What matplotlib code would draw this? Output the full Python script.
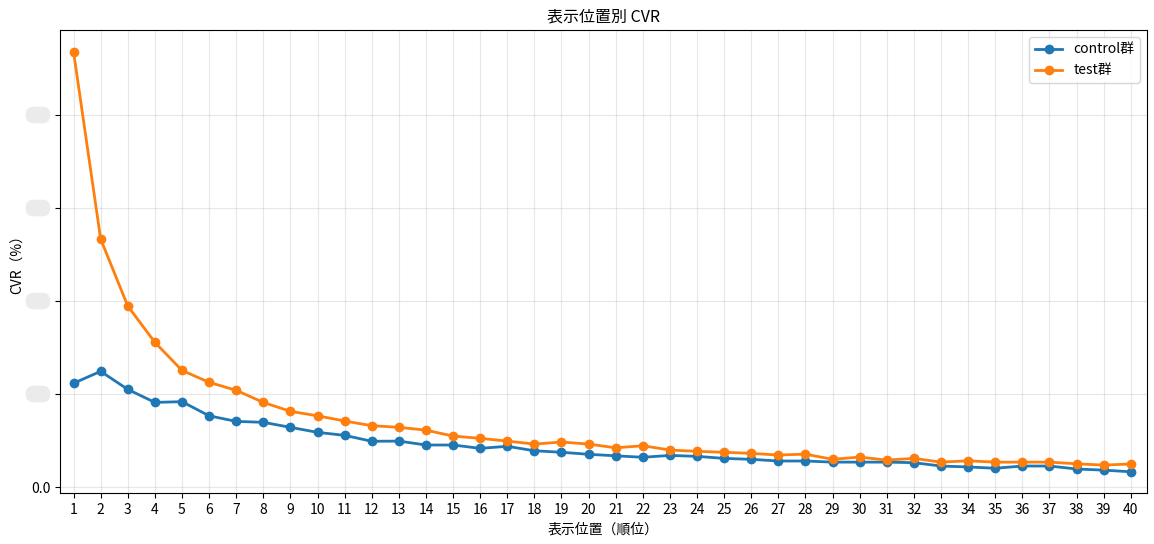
import matplotlib
matplotlib.use("Agg")
import matplotlib.pyplot as plt
from matplotlib.patches import FancyBboxPatch
from matplotlib.ticker import FuncFormatter

plt.rcParams['font.family'] = ['Noto Sans CJK JP', 'DejaVu Sans']

positions = list(range(1, 41))
control = [0.558, 0.622, 0.525, 0.455, 0.459, 0.383, 0.353, 0.348, 0.321, 0.294,
           0.278, 0.246, 0.247, 0.226, 0.226, 0.208, 0.219, 0.195, 0.187, 0.176,
           0.168, 0.160, 0.170, 0.165, 0.154, 0.149, 0.140, 0.140, 0.134, 0.134,
           0.134, 0.131, 0.113, 0.108, 0.101, 0.113, 0.113, 0.097, 0.091, 0.082]
test = [2.339, 1.333, 0.973, 0.778, 0.627, 0.563, 0.520, 0.455, 0.407, 0.383,
        0.355, 0.330, 0.321, 0.306, 0.274, 0.262, 0.247, 0.231, 0.242, 0.231,
        0.211, 0.222, 0.199, 0.192, 0.187, 0.181, 0.172, 0.177, 0.149, 0.161,
        0.145, 0.154, 0.134, 0.141, 0.134, 0.134, 0.134, 0.125, 0.118, 0.124]
yticks = [0.0, 0.5, 1.0, 1.5, 2.0]

fig = plt.figure(figsize=(11.54, 5.44), dpi=100)
ax = fig.add_axes([60/1154, 51/544, 1087/1154, 463/544])

ax.plot(positions, control, marker='o', color='#1f77b4', linewidth=2, markersize=6, label='control群')
ax.plot(positions, test, marker='o', color='#ff7f0e', linewidth=2, markersize=6, label='test群')

ax.set_xlim(0.5, 40.6)
ax.set_ylim(-0.032, 2.457)
ax.set_xticks(positions)
ax.set_yticks(yticks)
ax.yaxis.set_major_formatter(FuncFormatter(lambda v, p: '0.0' if abs(v) < 1e-9 else ''))
ax.tick_params(labelsize=10)
ax.grid(True, alpha=0.3)
ax.set_title('表示位置別 CVR', fontsize=11.5)
ax.set_xlabel('表示位置（順位）', fontsize=10)
ax.set_ylabel('CVR（%）', fontsize=10)
ax.legend(loc='upper right', fontsize=10)

# redaction blobs over hidden y tick labels
for yv in yticks[1:]:
    ypix = ax.transData.transform((1, yv))[1]
    blob = FancyBboxPatch((28/1154, (ypix - 6) / 544), 20/1154, 12/544,
                          boxstyle='round,pad=0.002,rounding_size=0.007',
                          transform=fig.transFigure, facecolor='#ebebeb',
                          edgecolor='none', mutation_aspect=1154/544)
    fig.patches.append(blob)

fig.savefig('out.png', dpi=100)
